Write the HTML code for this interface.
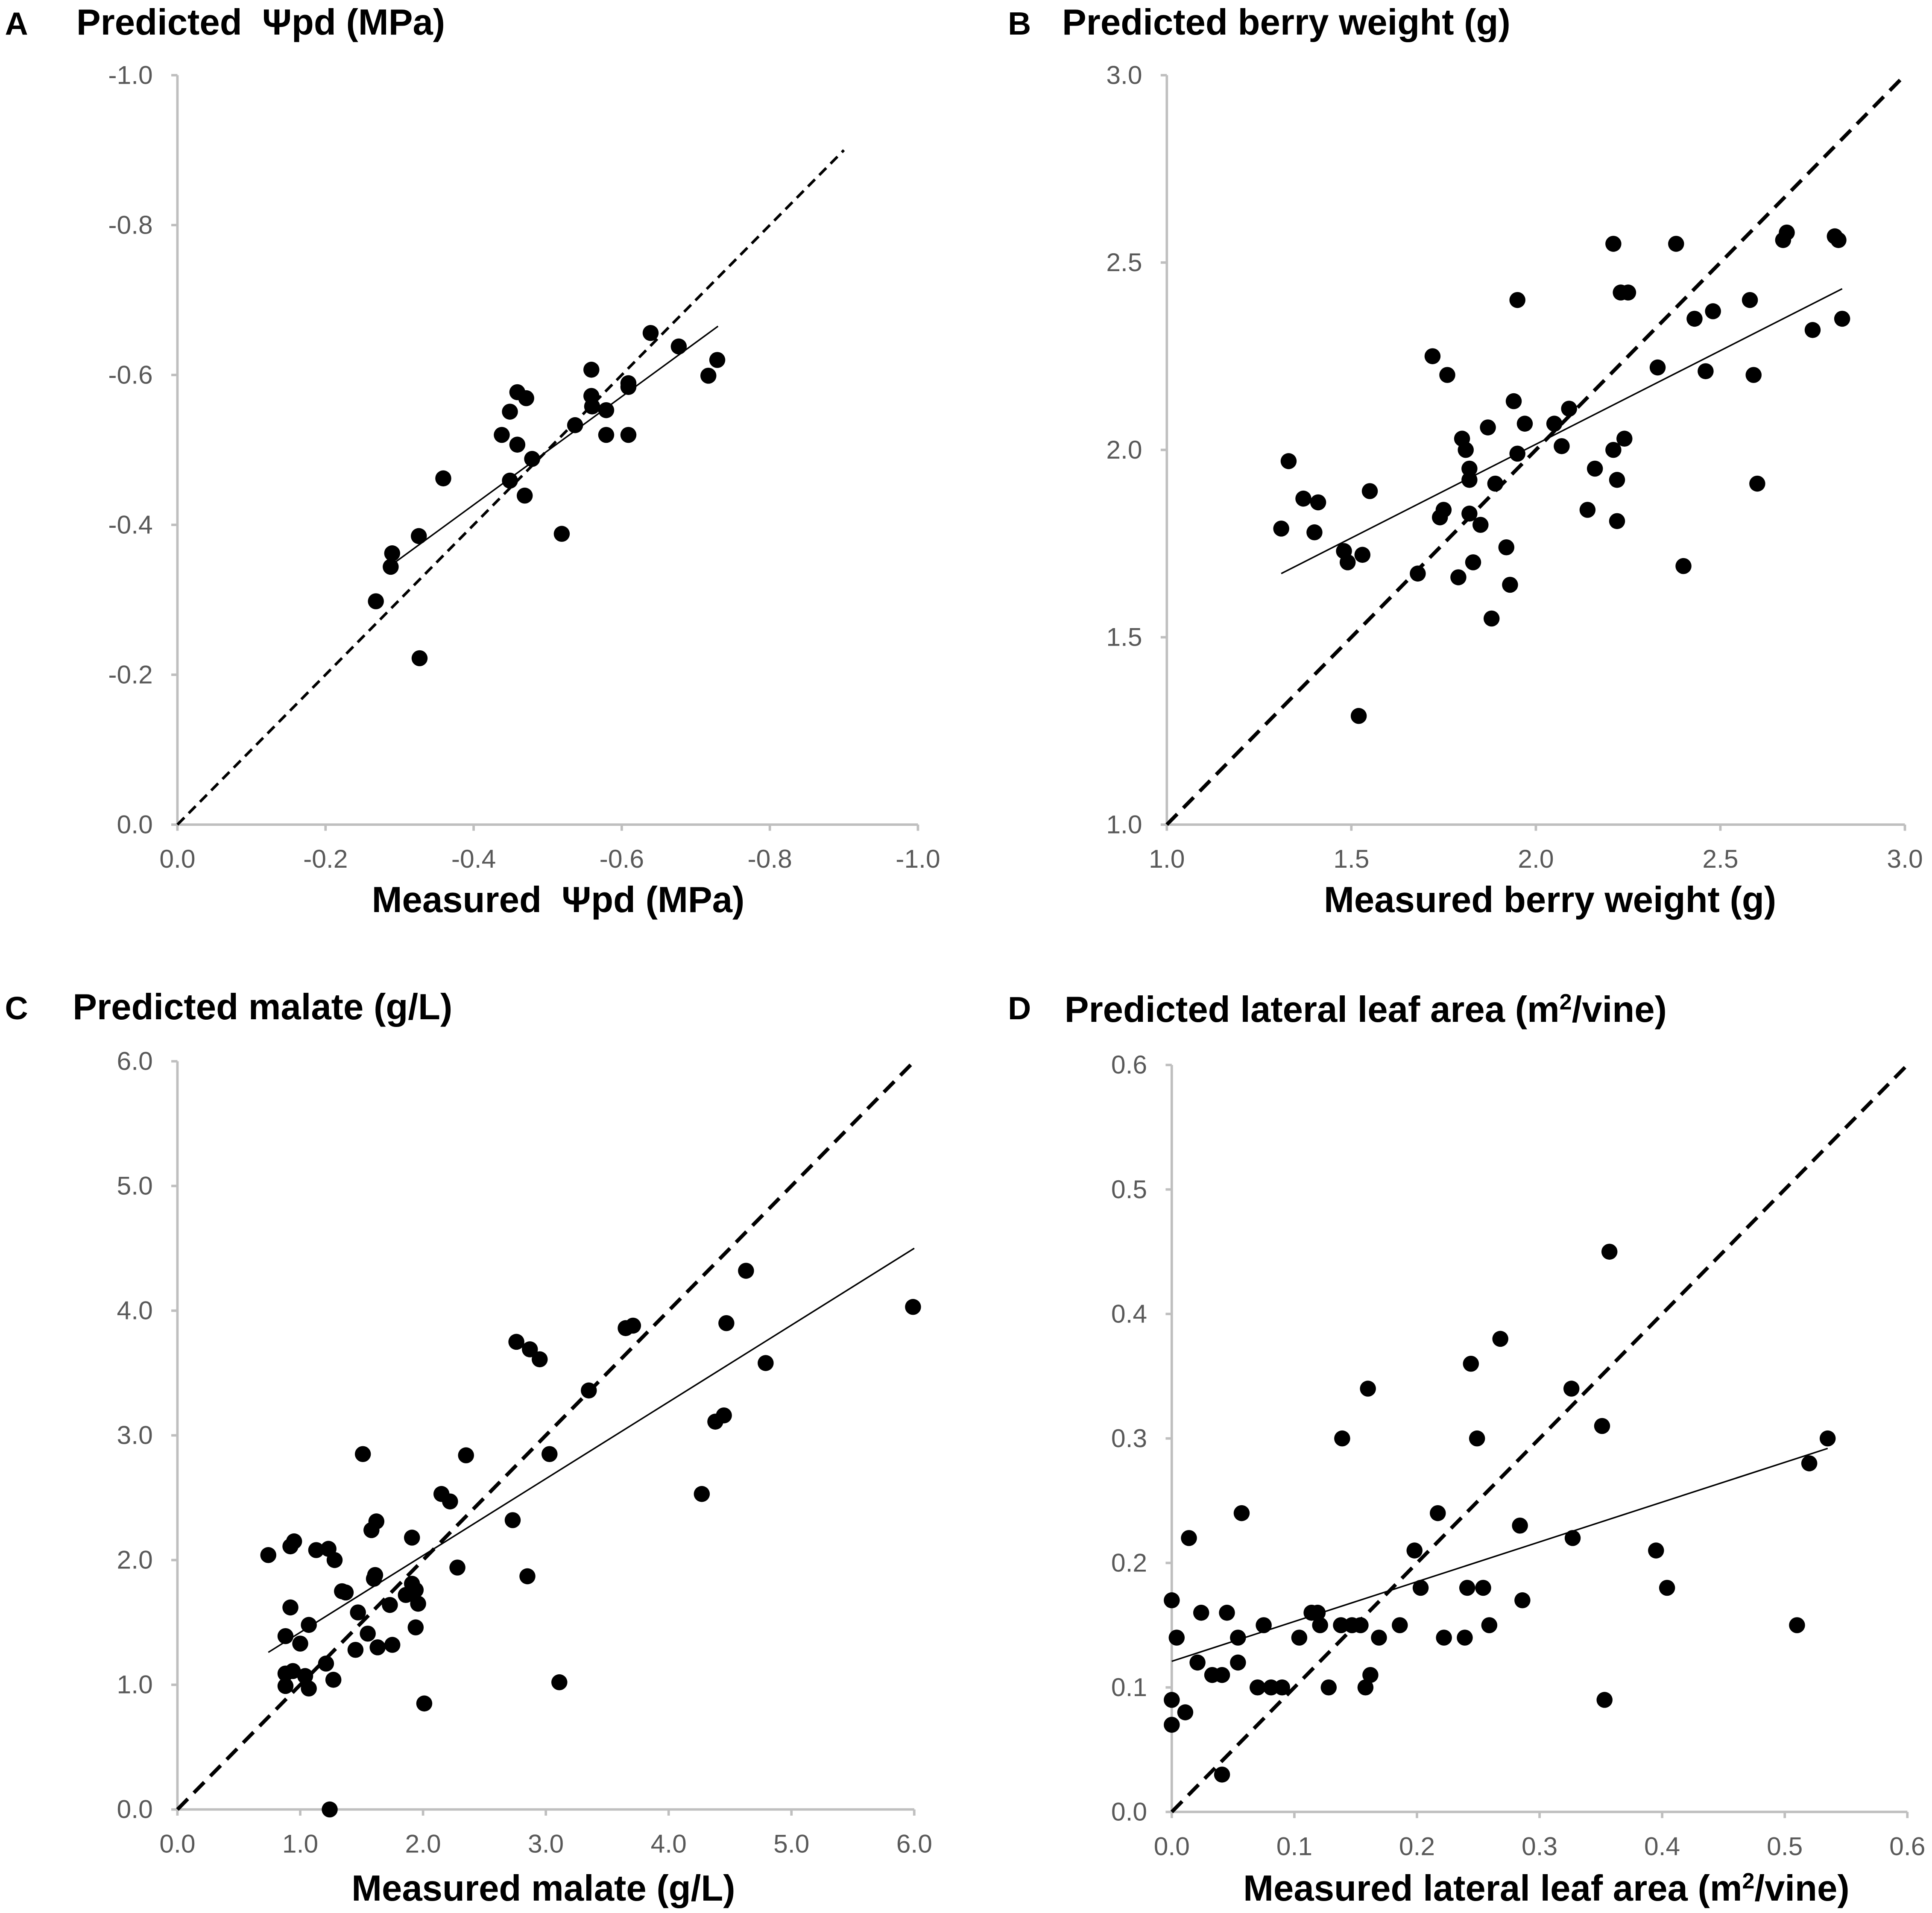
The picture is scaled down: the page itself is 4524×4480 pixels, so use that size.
<!DOCTYPE html>
<html><head><meta charset="utf-8"><style>
html,body{margin:0;padding:0;background:#fff}
svg{display:block}
text{font-family:"Liberation Sans",Arial,sans-serif}
.tick{font-size:21px;fill:#595959}
.ttl{font-size:29.5px;font-weight:bold;fill:#000}
.let{font-size:26px;font-weight:bold;fill:#000}
</style></head><body>
<svg id="fig" width="4524" height="4480" viewBox="0 0 1568 1552" preserveAspectRatio="none" xmlns="http://www.w3.org/2000/svg">
<text class="let" x="4" y="28">A</text>
<text class="ttl" x="62" y="28">Predicted&#160; Ψpd (MPa)</text>
<text class="let" x="818" y="28">B</text>
<text class="ttl" x="862" y="28">Predicted berry weight (g)</text>
<text class="let" x="4" y="827">C</text>
<text class="ttl" x="59" y="827">Predicted malate (g/L)</text>
<text class="let" x="818" y="827">D</text>
<text class="ttl" x="864" y="829">Predicted lateral leaf area (m<tspan font-size="18" dy="-10">2</tspan><tspan dy="10">/vine)</tspan></text>
<text class="ttl" x="453" y="740" text-anchor="middle">Measured&#160; Ψpd (MPa)</text>
<text class="ttl" x="1258" y="740" text-anchor="middle">Measured berry weight (g)</text>
<text class="ttl" x="441" y="1542" text-anchor="middle">Measured malate (g/L)</text>
<text class="ttl" x="1255" y="1542" text-anchor="middle">Measured lateral leaf area (m<tspan font-size="18" dy="-10">2</tspan><tspan dy="10">/vine)</tspan></text>
</svg>
<script>
// Panel A (values shown as negatives)
const aMeasured=[0.268,0.290,0.288,0.326,0.327,0.359,0.438,0.449,0.459,0.459,0.471,0.449,0.469,0.479,0.519,0.537,0.559,0.559,0.560,0.579,0.579,0.609,0.609,0.609,0.639,0.677,0.717,0.729];
const aPredicted=[0.298,0.362,0.344,0.385,0.222,0.462,0.520,0.551,0.577,0.507,0.569,0.459,0.439,0.488,0.388,0.533,0.607,0.572,0.558,0.553,0.520,0.584,0.589,0.520,0.656,0.638,0.599,0.620];
const aFit=[[0.28,0.34],[0.73,0.665]];
const aTicks=[0,0.2,0.4,0.6,0.8,1.0];
const aTickLabels=["0.0","-0.2","-0.4","-0.6","-0.8","-1.0"];
// Panel B
const bMeasured=[1.31,1.33,1.37,1.40,1.41,1.48,1.49,1.53,1.55,1.52,1.68,1.72,1.74,1.75,1.76,1.79,1.80,1.81,1.82,1.82,1.82,1.83,1.85,1.87,1.88,1.89,1.92,1.93,1.94,1.95,1.95,1.97,2.05,2.07,2.09,2.14,2.16,2.21,2.21,2.22,2.22,2.23,2.25,2.24,2.33,2.38,2.40,2.43,2.46,2.48,2.58,2.59,2.60,2.67,2.68,2.75,2.81,2.82,2.83];
const bPredicted=[1.79,1.97,1.87,1.78,1.86,1.73,1.70,1.72,1.89,1.29,1.67,2.25,1.82,1.84,2.20,1.66,2.03,2.00,1.92,1.95,1.83,1.70,1.80,2.06,1.55,1.91,1.74,1.64,2.13,1.99,2.40,2.07,2.07,2.01,2.11,1.84,1.95,2.55,2.00,1.92,1.81,2.42,2.42,2.03,2.22,2.55,1.69,2.35,2.21,2.37,2.40,2.20,1.91,2.56,2.58,2.32,2.57,2.56,2.35];
const bFit=[[1.31,1.67],[2.83,2.43]];
const bTicks=[1.0,1.5,2.0,2.5,3.0];
const bTickLabels=["1.0","1.5","2.0","2.5","3.0"];
// Panel C
const cMeasured=[0.74,0.92,0.95,0.88,0.92,0.88,0.88,0.94,1.00,1.04,1.07,1.07,1.13,1.23,1.28,1.21,1.27,1.24,1.34,1.37,1.45,1.47,1.51,1.55,1.58,1.62,1.60,1.61,1.63,1.73,1.75,1.86,1.91,1.91,1.94,1.94,1.96,2.01,2.15,2.22,2.28,2.35,2.73,2.76,2.85,2.87,2.95,3.03,3.11,3.35,3.65,3.71,4.27,4.38,4.45,4.47,4.63,4.79,5.99];
const cPredicted=[2.04,2.11,2.15,1.39,1.62,1.09,0.99,1.11,1.33,1.07,1.48,0.97,2.08,2.09,2.00,1.17,1.04,0.00,1.75,1.74,1.28,1.58,2.85,1.41,2.24,2.31,1.85,1.88,1.30,1.64,1.32,1.72,1.81,2.18,1.76,1.46,1.65,0.85,2.53,2.47,1.94,2.84,2.32,3.75,1.87,3.69,3.61,2.85,1.02,3.36,3.86,3.88,2.53,3.11,3.16,3.90,4.32,3.58,4.03];
const cFit=[[0.74,1.26],[6.0,4.50]];
const cTicks=[0,1,2,3,4,5,6];
const cTickLabels=["0.0","1.0","2.0","3.0","4.0","5.0","6.0"];
// Panel D
const dMeasured=[0.000,0.000,0.000,0.004,0.011,0.014,0.021,0.024,0.033,0.041,0.041,0.045,0.054,0.054,0.057,0.070,0.075,0.081,0.090,0.104,0.114,0.119,0.121,0.128,0.138,0.139,0.147,0.154,0.158,0.160,0.162,0.169,0.186,0.198,0.203,0.217,0.222,0.239,0.241,0.244,0.249,0.254,0.259,0.268,0.284,0.286,0.326,0.327,0.351,0.353,0.357,0.395,0.404,0.510,0.520,0.535];
const dPredicted=[0.17,0.09,0.07,0.14,0.08,0.22,0.12,0.16,0.11,0.11,0.03,0.16,0.14,0.12,0.24,0.10,0.15,0.10,0.10,0.14,0.16,0.16,0.15,0.10,0.15,0.30,0.15,0.15,0.10,0.34,0.11,0.14,0.15,0.21,0.18,0.24,0.14,0.14,0.18,0.36,0.30,0.18,0.15,0.38,0.23,0.17,0.34,0.22,0.31,0.09,0.45,0.21,0.18,0.15,0.28,0.30];
const dFit=[[0,0.121],[0.535,0.292]];
const dTicks=[0,0.1,0.2,0.3,0.4,0.5,0.6];
const dTickLabels=["0.0","0.1","0.2","0.3","0.4","0.5","0.6"];

const NS="http://www.w3.org/2000/svg";
const svg=document.getElementById('fig');
function mk(tag,attrs){const e=document.createElementNS(NS,tag);for(const k in attrs)e.setAttribute(k,attrs[k]);svg.appendChild(e);return e;}

function panel(id,cfg){
  const sx=v=>cfg.x0+(v-cfg.min)/(cfg.max-cfg.min)*(cfg.x1-cfg.x0);
  const sy=v=>cfg.y0-(v-cfg.min)/(cfg.max-cfg.min)*(cfg.y0-cfg.y1);
  let e=mk('line',{x1:cfg.x0,y1:cfg.y0,x2:cfg.x0,y2:cfg.y1,stroke:'#bfbfbf','stroke-width':2});
  
  
  e=mk('line',{x1:cfg.x0,y1:cfg.y0,x2:cfg.x1,y2:cfg.y0,stroke:'#bfbfbf','stroke-width':2});
  
  
  cfg.ticks.forEach((t,i)=>{
    let m=mk('line',{x1:cfg.x0-5,y1:sy(t),x2:cfg.x0,y2:sy(t),stroke:'#bfbfbf','stroke-width':2});
    
    
    m=mk('line',{x1:sx(t),y1:cfg.y0,x2:sx(t),y2:cfg.y0+5,stroke:'#bfbfbf','stroke-width':2});
    
    
    let tl=mk('text',{x:cfg.x0-20,y:sy(t)+7,'text-anchor':'end',class:'tick'});
    tl.textContent=cfg.labels[i];
    
    
    tl=mk('text',{x:sx(t),y:cfg.y0+35,'text-anchor':'middle',class:'tick'});
    tl.textContent=cfg.labels[i];
    
    
  });
  e=mk('line',{x1:sx(cfg.min),y1:sy(cfg.min),x2:sx(cfg.dmax),y2:sy(cfg.dmax),stroke:'#000','stroke-width':cfg.dw,'stroke-dasharray':cfg.dash});
  
  
  e=mk('line',{x1:sx(cfg.fit[0][0]),y1:sy(cfg.fit[0][1]),x2:sx(cfg.fit[1][0]),y2:sy(cfg.fit[1][1]),stroke:'#000','stroke-width':1.2});
  
  
  cfg.mx.forEach((v,i)=>{
    const c=mk('circle',{cx:sx(v),cy:sy(cfg.py[i]),r:6.5,fill:'#000'});
    
    
  });
}
panel('panel-a',{x0:144,x1:745,y0:669,y1:61,min:0,max:1,dmax:0.9,ticks:aTicks,labels:aTickLabels,mx:aMeasured,py:aPredicted,fit:aFit,dash:'8,5',dw:2.2});
panel('panel-b',{x0:947,x1:1546,y0:669,y1:61,min:1,max:3,dmax:3,ticks:bTicks,labels:bTickLabels,mx:bMeasured,py:bPredicted,fit:bFit,dash:'12,7',dw:3});
panel('panel-c',{x0:144,x1:742,y0:1468,y1:861,min:0,max:6,dmax:6,ticks:cTicks,labels:cTickLabels,mx:cMeasured,py:cPredicted,fit:cFit,dash:'12,7',dw:3});
panel('panel-d',{x0:951,x1:1548,y0:1470,y1:864,min:0,max:0.6,dmax:0.6,ticks:dTicks,labels:dTickLabels,mx:dMeasured,py:dPredicted,fit:dFit,dash:'12,7',dw:3});
</script>
</body></html>
